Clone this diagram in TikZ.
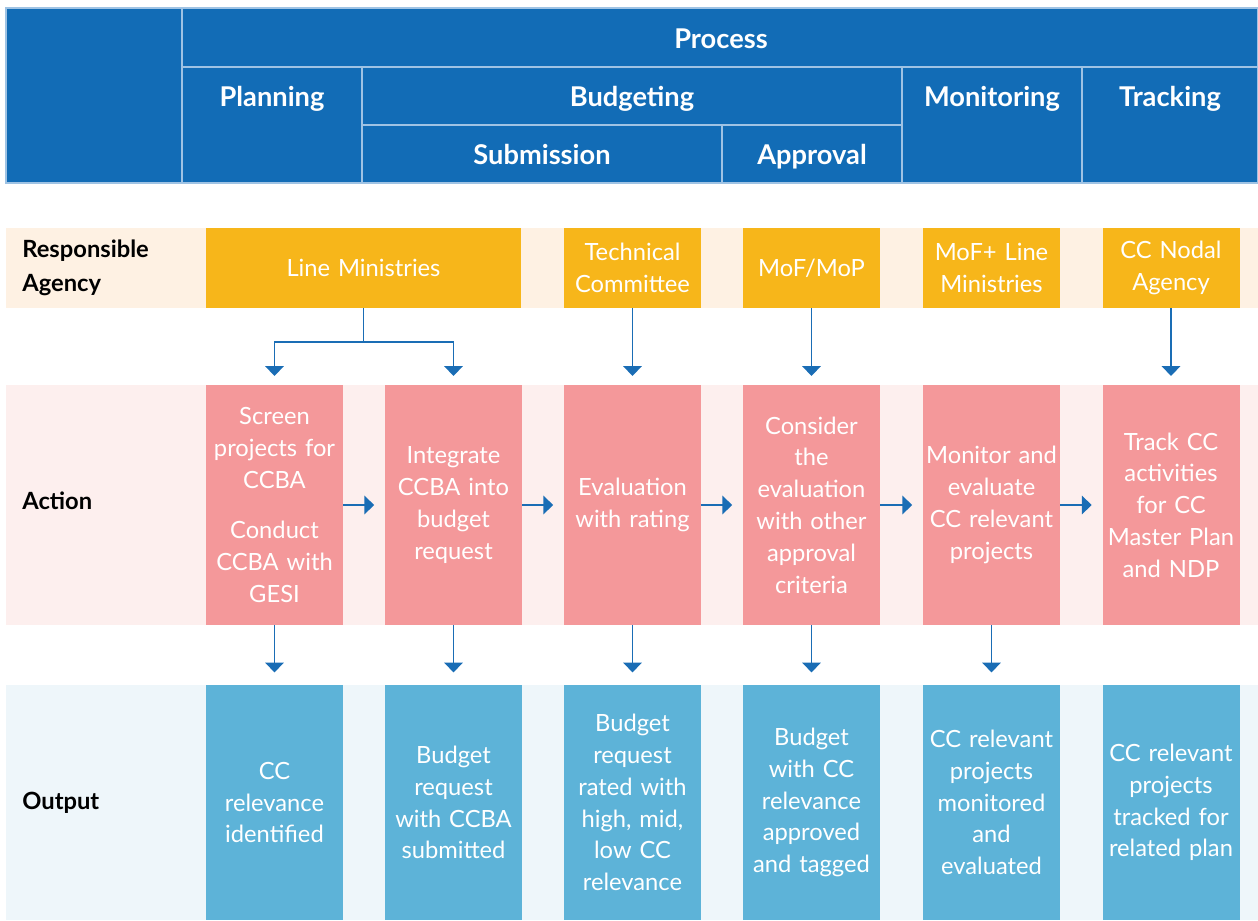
\documentclass[tikz,border=0pt]{standalone}
\usepackage{fontspec}
\setmainfont{Lato}
\usetikzlibrary{arrows.meta, positioning}

\definecolor{headblue}{HTML}{126CB6}
\definecolor{headline}{HTML}{9FC3E4}
\definecolor{agencybg}{HTML}{FEF1E3}
\definecolor{agencybox}{HTML}{F7B61A}
\definecolor{actionbg}{HTML}{FDEFEE}
\definecolor{actionbox}{HTML}{F4989A}
\definecolor{outputbg}{HTML}{EEF6FA}
\definecolor{outputbox}{HTML}{5DB3D8}
\definecolor{flowblue}{HTML}{1A6DB5}

\tikzset{
  headcell/.style = {fill = headblue, draw = headline, line width = 0.6pt},
  headtext/.style = {text = white, font = \fontsize{15.5}{18}\selectfont\bfseries, inner sep = 0pt,
                     text height = 1.6ex, text depth = 0.45ex},
  rowlabel/.style = {anchor = west, align = left, inner sep = 0pt, font = \fontsize{13.5}{19}\selectfont\bfseries},
  cell/.style = {minimum width = 137*0.02cm, text width = 132*0.02cm, align = center, text = white,
                 inner sep = 0pt, font = \fontsize{13.5}{18.1}\selectfont},
  agencycell/.style = {cell, fill = agencybox, minimum height = 80*0.02cm},
  actioncell/.style = {cell, fill = actionbox, minimum height = 240*0.02cm},
  outputcell/.style = {cell, fill = outputbox, minimum height = 235*0.02cm},
  flow/.style = {draw = flowblue, line width = 1.1pt, -{Triangle[width = 10.5pt, length = 5.5pt]}}
}

\begin{document}
\begin{tikzpicture}[x = 0.02cm, y = -0.02cm]
  \useasboundingbox (0,0) rectangle (1258,920);

  % header table
  \path[headcell] (6,8) rectangle (182,183);
  \path[headcell] (182,8) rectangle (1258,67);
  \path[headcell] (182,67) rectangle (362,183);
  \path[headcell] (362,67) rectangle (902,125);
  \path[headcell] (362,125) rectangle (722,183);
  \path[headcell] (722,125) rectangle (902,183);
  \path[headcell] (902,67) rectangle (1082,183);
  \path[headcell] (1082,67) rectangle (1258,183);
  \node[headtext] (process) at (721,43) {Process};
  \node[headtext] (planning) at (272,101) {Planning};
  \node[headtext] (budgeting) at (632,101) {Budgeting};
  \node[headtext] (monitoring) at (992,101) {Monitoring};
  \node[headtext] (tracking) at (1170,101) {Tracking};
  \node[headtext] (submission) at (542,159) {Submission};
  \node[headtext] (approval) at (812,159) {Approval};

  % row bands
  \fill[agencybg] (6,228) rectangle (1258,308);
  \fill[actionbg] (6,385) rectangle (1258,625);
  \fill[outputbg] (6,685) rectangle (1258,920);
  \node[rowlabel] (agencylabel) at (22,268) {Responsible\\Agency};
  \node[rowlabel] (actionlabel) at (22,501) {Action};
  \node[rowlabel] (outputlabel) at (22,803) {Output};

  % responsible agencies
  \node[agencycell, minimum width = 315*0.02cm, text width = 300*0.02cm] (ag1) at (363.5,268) {Line Ministries};
  \node[agencycell] (ag3) at (632.5,268) {Technical\\Committee};
  \node[agencycell] (ag4) at (811.5,268) {MoF/MoP};
  \node[agencycell] (ag5) at (991.5,268) {MoF+ Line\\Ministries};
  \node[agencycell] (ag6) at (1171,268) {CC Nodal\\Agency};

  % actions
  \node[actioncell] (a1) at (274.5,505) {Screen\\projects for\\CCBA\\[10.5pt]Conduct\\CCBA with\\GESI};
  \node[actioncell] (a2) at (453.5,505) {Integrate\\CCBA into\\budget\\request};
  \node[actioncell] (a3) at (632.5,505) {Evaluation\\with rating};
  \node[actioncell] (a4) at (811.5,505) {Consider\\the\\evaluation\\with other\\approval\\criteria};
  \node[actioncell] (a5) at (991.5,505) {Monitor and\\evaluate\\CC relevant\\projects};
  \node[actioncell] (a6) at (1171,505) {Track CC\\activities\\for CC\\Master Plan\\and NDP};

  % outputs
  \node[outputcell] (o1) at (274.5,802.5) {CC\\relevance\\identified};
  \node[outputcell] (o2) at (453.5,802.5) {Budget\\request\\with CCBA\\submitted};
  \node[outputcell] (o3) at (632.5,802.5) {Budget\\request\\rated with\\high, mid,\\low CC\\relevance};
  \node[outputcell] (o4) at (811.5,802.5) {Budget\\with CC\\relevance\\approved\\and tagged};
  \node[outputcell] (o5) at (991.5,802.5) {CC relevant\\projects\\monitored\\and\\evaluated};
  \node[outputcell] (o6) at (1171,802.5) {CC relevant\\projects\\tracked for\\related plan};

  % agency to action
  \coordinate (split) at (363.5,342);
  \draw[flow] (ag1.south) -- (split) -| ([yshift = 5pt]a1.north);
  \draw[flow] (split) -| ([yshift = 5pt]a2.north);
  \foreach \n in {3,4,6}
    \draw[flow, shorten > = 5pt] (ag\n.south) -- (a\n.north);

  % action to action
  \foreach \m/\n in {1/2, 2/3, 3/4, 4/5, 5/6}
    \draw[flow, shorten > = 6pt] (a\m.east) -- (a\n.west);

  % action to output
  \foreach \n in {1,...,5}
    \draw[flow, shorten > = 7pt] (a\n.south) -- (o\n.north);
\end{tikzpicture}
\end{document}
